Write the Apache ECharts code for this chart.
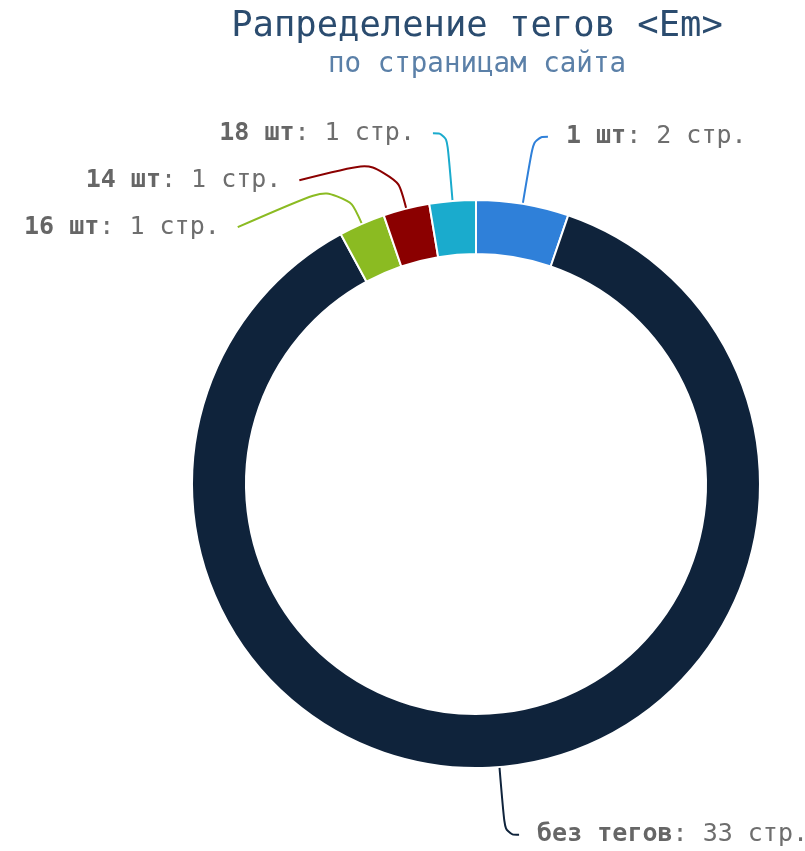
<!DOCTYPE html>
<html>
<head>
<meta charset="utf-8">
<script src="https://cdn.jsdelivr.net/npm/echarts@6/dist/echarts.min.js"></script>
<style>
    html, body { margin: 0; padding: 0; background: #fff; }
    #chart { width: 805px; height: 851px; }
</style>
</head>
<body>
<div id="chart"></div>
<script>
// данные
var names = ['1 шт', 'без тегов', '16 шт', '14 шт', '18 шт'];
var pages = [2, 33, 1, 1, 1];
var colors = ['#2f80d9', '#0f233b', '#8bbb22', '#8b0000', '#1aabcd'];

var CX = 476, CY = 484, R_IN = 230, R_OUT = 284;
var LINE_LEN = 68, LINE_LEN2 = 14;

var chart = echarts.init(document.getElementById('chart'));

var pieData = [];
for (var i = 0; i < names.length; i++) {
    var item = {
        name: names[i],
        value: pages[i],
        itemStyle: { color: colors[i] },
        labelLine: { lineStyle: { color: colors[i] } }
    };
    if (pages[i] > 10) {
        // нижняя подпись - без лишней высоты, чтобы не упиралась в край
        item.label = { lineHeight: 28, rich: { b: { lineHeight: 28 } } };
    }
    pieData.push(item);
}

chart.setOption({
    textStyle: { fontFamily: 'DejaVu Sans Mono' },
    title: {
        text: 'Рапределение тегов <Em>',
        subtext: 'по страницам сайта',
        left: 472,
        top: 4,
        textAlign: 'center',
        itemGap: 6,
        textStyle: {
            fontFamily: 'DejaVu Sans Mono',
            fontSize: 35.5,
            fontWeight: 'normal',
            color: '#2b4c6f'
        },
        subtextStyle: {
            fontFamily: 'DejaVu Sans Mono',
            fontSize: 27.5,
            color: '#5b80a8'
        }
    },
    series: [
        {
            name: 'Em',
            type: 'pie',
            center: [CX, CY],
            radius: [R_IN, R_OUT],
            startAngle: 90,
            clockwise: true,
            avoidLabelOverlap: true,
            itemStyle: {
                borderColor: '#fff',
                borderWidth: 2
            },
            label: {
                formatter: '{b|{b}}: {c} стр.',
                fontFamily: 'DejaVu Sans Mono',
                fontSize: 25,
                lineHeight: 45,
                color: '#6e6e6e',
                overflow: 'none',
                distanceToLabelLine: 18,
                rich: {
                    b: {
                        fontFamily: 'DejaVu Sans Mono',
                        fontSize: 25,
                        lineHeight: 45,
                        fontWeight: 'bold',
                        color: '#666'
                    }
                }
            },
            labelLine: {
                smooth: 0.5,
                length: LINE_LEN,
                length2: LINE_LEN2,
                lineStyle: { width: 2 }
            },
            // излом линии остаётся на продолжении радиуса,
            // угол излома не меньше 90 градусов
            labelLayout: function (params) {
                var pts = params.labelLinePoints;
                if (!pts) return {};
                var p0 = [pts[0][0], pts[0][1]];
                var p2 = [pts[2][0], pts[2][1]];
                var dx = p0[0] - CX, dy = p0[1] - CY;
                var d = Math.sqrt(dx * dx + dy * dy);
                var ux = dx / d, uy = dy / d;
                var L = R_OUT + LINE_LEN - d;
                var t = (p2[0] - p0[0]) * ux + (p2[1] - p0[1]) * uy;
                if (t < L) L = Math.max(t, 0);
                var p1 = [p0[0] + ux * L, p0[1] + uy * L];
                return { labelLinePoints: [p0, p1, p2] };
            },
            data: pieData
        }
    ]
});
</script>
</body>
</html>
